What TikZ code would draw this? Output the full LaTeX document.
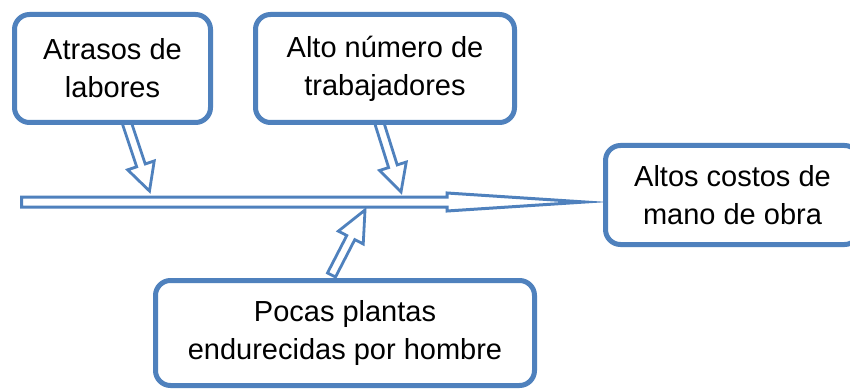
\documentclass[tikz,border=0pt]{standalone}
\usepackage{fontspec}
\setmainfont{Liberation Sans}
\usetikzlibrary{calc}
\definecolor{obl}{RGB}{79,129,189}
\tikzset{
  box/.style={draw=obl, line width=5pt, fill=white, rounded corners=15pt, align=center, inner sep=0pt,
    font=\fontsize{29}{38}\selectfont},
  barrow/.style={draw=obl, line width=2.8pt, fill=white, line join=miter},
}
\newcommand\blockarrow[6]{%
  \coordinate (#6h) at ($(#2)!#5!(#1)$);
  \draw[barrow] ($(#1)!#3!90:(#2)$) -- ($(#6h)!#3!-90:(#1)$) -- ($(#6h)!#4!-90:(#1)$) -- (#2)
    -- ($(#6h)!#4!90:(#1)$) -- ($(#6h)!#3!90:(#1)$) -- ($(#1)!#3!-90:(#2)$) -- cycle;
}
\begin{document}
\begin{tikzpicture}[x=1pt,y=-1pt]
\path[use as bounding box, clip] (0,0) rectangle (850,390);
\fill[white] (0,0) rectangle (850,390);
% main arrow
\coordinate (mtail) at (21.5,202);
\coordinate (mtip) at (585,202);
\draw[barrow, line width=3pt, miter limit=25] (mtail) ++(0,-5) -- (447,197) -- (447,193) -- (mtip) -- (447,211) -- (447,207) -- (21.5,207) -- cycle;
% cause arrows
\coordinate (a1s) at (126.5,122);
\coordinate (a1e) at (149.5,191);
\coordinate (a2s) at (379,122);
\coordinate (a2e) at (401,192);
\coordinate (a3s) at (331.5,275);
\coordinate (a3e) at (365,210);
\blockarrow{a1s}{a1e}{4.5pt}{14pt}{27pt}{a1}
\blockarrow{a2s}{a2e}{4.5pt}{14pt}{27pt}{a2}
\blockarrow{a3s}{a3e}{4.5pt}{14pt}{31pt}{a3}
% boxes
\node[box, minimum width=196pt, minimum height=108pt] (b1) at (112.5,68.5) {Atrasos de\\labores};
\node[box, minimum width=259pt, minimum height=108pt] (b2) at (385,68.5) {Alto número de\\trabajadores};
\node[box, minimum width=254pt, minimum height=99pt] (b3) at (732.5,195) {Altos costos de\\mano de obra};
\node[box, minimum width=379pt, minimum height=105pt] (b4) at (345,333) {Pocas plantas\\endurecidas por hombre};
\end{tikzpicture}
\end{document}
